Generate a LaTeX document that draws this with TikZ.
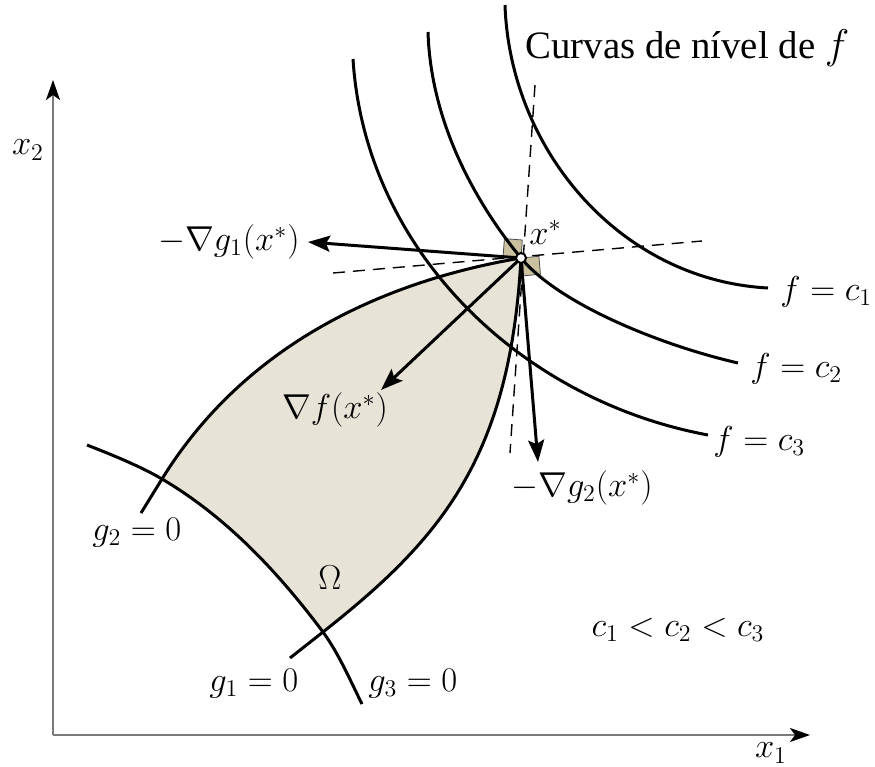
\documentclass[tikz,border=0pt]{standalone}
\usepackage{fontspec}
\setmainfont{Liberation Serif}
\usetikzlibrary{arrows.meta}
\definecolor{omegafill}{HTML}{E7E3D6}
\definecolor{markfill}{HTML}{C9C19F}
\definecolor{axisgrey}{HTML}{7A7A7A}
\tikzset{
  every picture/.style={x=0.5pt, y=-0.5pt},
  lbl/.style={font=\fontsize{17.28}{21}\selectfont, inner sep=0pt},
  curve/.style={line width=1.5pt},
  grad/.style={-{Stealth[length=11pt, width=8pt, inset=2pt]}, line width=1.5pt},
  axis/.style={-{Stealth[length=10pt, width=7pt, inset=2.5pt, color=black]}, draw=axisgrey, line width=1pt},
  tangent/.style={dash pattern=on 6pt off 4pt, line width=0.7pt},
  rightmark/.style={fill=markfill, draw=black!70, line width=0.4pt},
  dot/.style={circle, draw, fill=white, line width=1pt, inner sep=0pt, minimum size=5pt},
}

\begin{document}
\begin{tikzpicture}
  \useasboundingbox (0,0) rectangle (875,767);
  % feasible region
  \fill[omegafill] (162,479) .. controls (241,351) and (373,283) .. (521,258)
    .. controls (510,458) and (441,539) .. (323,632)
    .. controls (278,572) and (226.5,517) .. (162,479) -- cycle;
  % right angle marks at x*
  \path[rightmark] (521,258) -- ++(-17.9,-1.4) -- ++(1.3,-18) -- ++(17.9,1.4) -- cycle;
  \path[rightmark] (521,258) -- ++(17.9,-1.7) -- ++(1.5,17.9) -- ++(-17.9,1.7) -- cycle;
  % tangent lines
  \coordinate (xs) at (521,258);
  \coordinate (th1) at (333,273);
  \coordinate (th2) at (702,241);
  \coordinate (tv1) at (535,85);
  \coordinate (tv2) at (510,453);
  \draw[tangent] (th1) -- (th2);
  \draw[tangent] (tv1) -- (tv2);
  % constraints
  \draw[curve] (141,513) -- (162,479) .. controls (241,351) and (373,283) .. (521,258);
  \draw[curve] (521,258) .. controls (510,458) and (441,539) .. (323,632) -- (290,658);
  \draw[curve] (87,445) .. controls (110,454) and (140,466) .. (162,479)
    .. controls (226.5,517) and (278,572) .. (323,632)
    .. controls (339,654) and (350,680) .. (362,704);
  % level curves of f
  \draw[curve] (505,5) .. controls (510,150) and (620,280) .. (768,288);
  \draw[curve] (428,32) .. controls (431,130) and (483,212) .. (521,258)
    .. controls (559,304) and (660,345) .. (738,363);
  \draw[curve] (353,59) .. controls (365,250) and (520,400) .. (708,435);
  % axes
  \coordinate (o) at (53,735);
  \coordinate (xend) at (810,735);
  \coordinate (yend) at (53,80);
  \draw[axis] (o) -- (xend);
  \draw[axis] (o) -- (yend);
  % gradients
  \coordinate (tg1) at (308,242);
  \coordinate (tf) at (381,390);
  \coordinate (tg2) at (538,462);
  \draw[grad] (xs) -- (tg1);
  \draw[grad] (xs) -- (tf);
  \draw[grad] (xs) -- (tg2);
  \node[dot] (xdot) at (xs) {};
  % labels
  \node[lbl, font=\fontsize{19.4}{23}\selectfont, anchor=base west] (title) at (525,58) {Curvas de nível de $f$};
  \node[lbl, anchor=base west] (xlab) at (529,244) {$x^*$};
  \node[lbl, anchor=east] (g1lab) at (300,242) {$-\nabla g_1(x^*)$};
  \node[lbl] (flab) at (335,410) {$\nabla f(x^*)$};
  \node[lbl] (g2lab) at (582,488) {$-\nabla g_2(x^*)$};
  \node[lbl, anchor=base west] (c1lab) at (780,300) {$f=c_1$};
  \node[lbl, anchor=base west] (c2lab) at (750,377) {$f=c_2$};
  \node[lbl, anchor=base west] (c3lab) at (713,450) {$f=c_3$};
  \node[lbl, anchor=base west] (g2zero) at (92,540) {$g_2=0$};
  \node[lbl, anchor=base west] (g1zero) at (209,691) {$g_1=0$};
  \node[lbl, anchor=base west] (g3zero) at (368,691) {$g_3=0$};
  \node[lbl] (omega) at (330,578) {$\Omega$};
  \node[lbl] (order) at (678,630) {$c_1<c_2<c_3$};
  \node[lbl] (x2lab) at (28,150) {$x_2$};
  \node[lbl] (x1lab) at (771,753) {$x_1$};
\end{tikzpicture}
\end{document}
